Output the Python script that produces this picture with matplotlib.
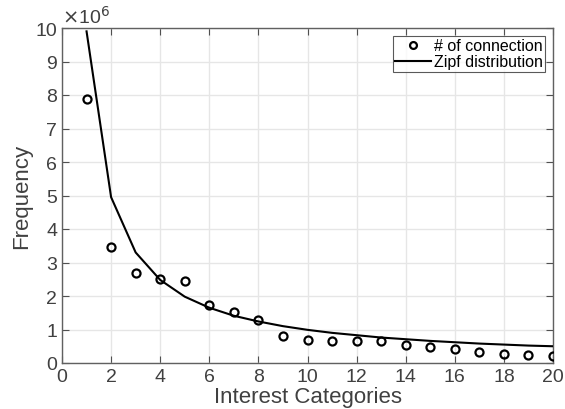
import matplotlib
matplotlib.use("Agg")
import matplotlib.pyplot as plt

categories = list(range(1, 21))
connections = [7.88, 3.45, 2.68, 2.52, 2.45, 1.72, 1.51, 1.28, 0.80, 0.69,
               0.67, 0.67, 0.67, 0.53, 0.48, 0.42, 0.34, 0.26, 0.24, 0.22]
zipf = [9.9, 4.95, 3.3, 2.48, 1.98, 1.65, 1.41, 1.24, 1.10, 0.99,
        0.90, 0.83, 0.76, 0.71, 0.66, 0.62, 0.58, 0.55, 0.52, 0.50]
xticks = list(range(0, 21, 2))
yticks = list(range(0, 11))

plt.rcParams['font.family'] = ['Liberation Sans', 'DejaVu Sans']
W, H = 565, 410
fig = plt.figure(figsize=(W/100, H/100), dpi=100)
ax = fig.add_axes([62/W, 1-364/H, (553-62)/W, (364-29)/H])

gray = '#505050'
ax.plot(categories, connections, 'o', mfc='none', mec='black', mew=1.6, ms=5.8,
        label='# of connection', zorder=3)
ax.plot(categories, zipf, '-', color='black', lw=1.5, label='Zipf distribution', zorder=3)

ax.set_xlim(0, 20)
ax.set_ylim(0, 10)
ax.set_xticks(xticks)
ax.set_yticks(yticks)
ax.grid(True, color='#e6e6e6', lw=1.0)
ax.set_axisbelow(True)
ax.tick_params(direction='in', top=True, right=True, colors=gray, labelsize=14,
               length=5, width=0.8, labelcolor='#404040')
for s in ax.spines.values():
    s.set_color('#606060')
    s.set_linewidth(1.0)
ax.set_xlabel('Interest Categories', fontsize=16, color='#404040', labelpad=1)
ax.set_ylabel('Frequency', fontsize=16, color='#404040', labelpad=2)
ax.text(0.0, 1.005, r'$\times$10$^{6}$', transform=ax.transAxes, fontsize=14,
        color='#404040', ha='left', va='bottom')

leg = ax.legend(loc='upper right', fontsize=11.5, frameon=True, fancybox=False,
                edgecolor='#303030', handlelength=2.2, handletextpad=0.2,
                borderpad=0.15, labelspacing=0.05, borderaxespad=0.5,
                markerscale=0.85)
leg.get_frame().set_linewidth(0.8)

fig.savefig('out.png', dpi=100)
